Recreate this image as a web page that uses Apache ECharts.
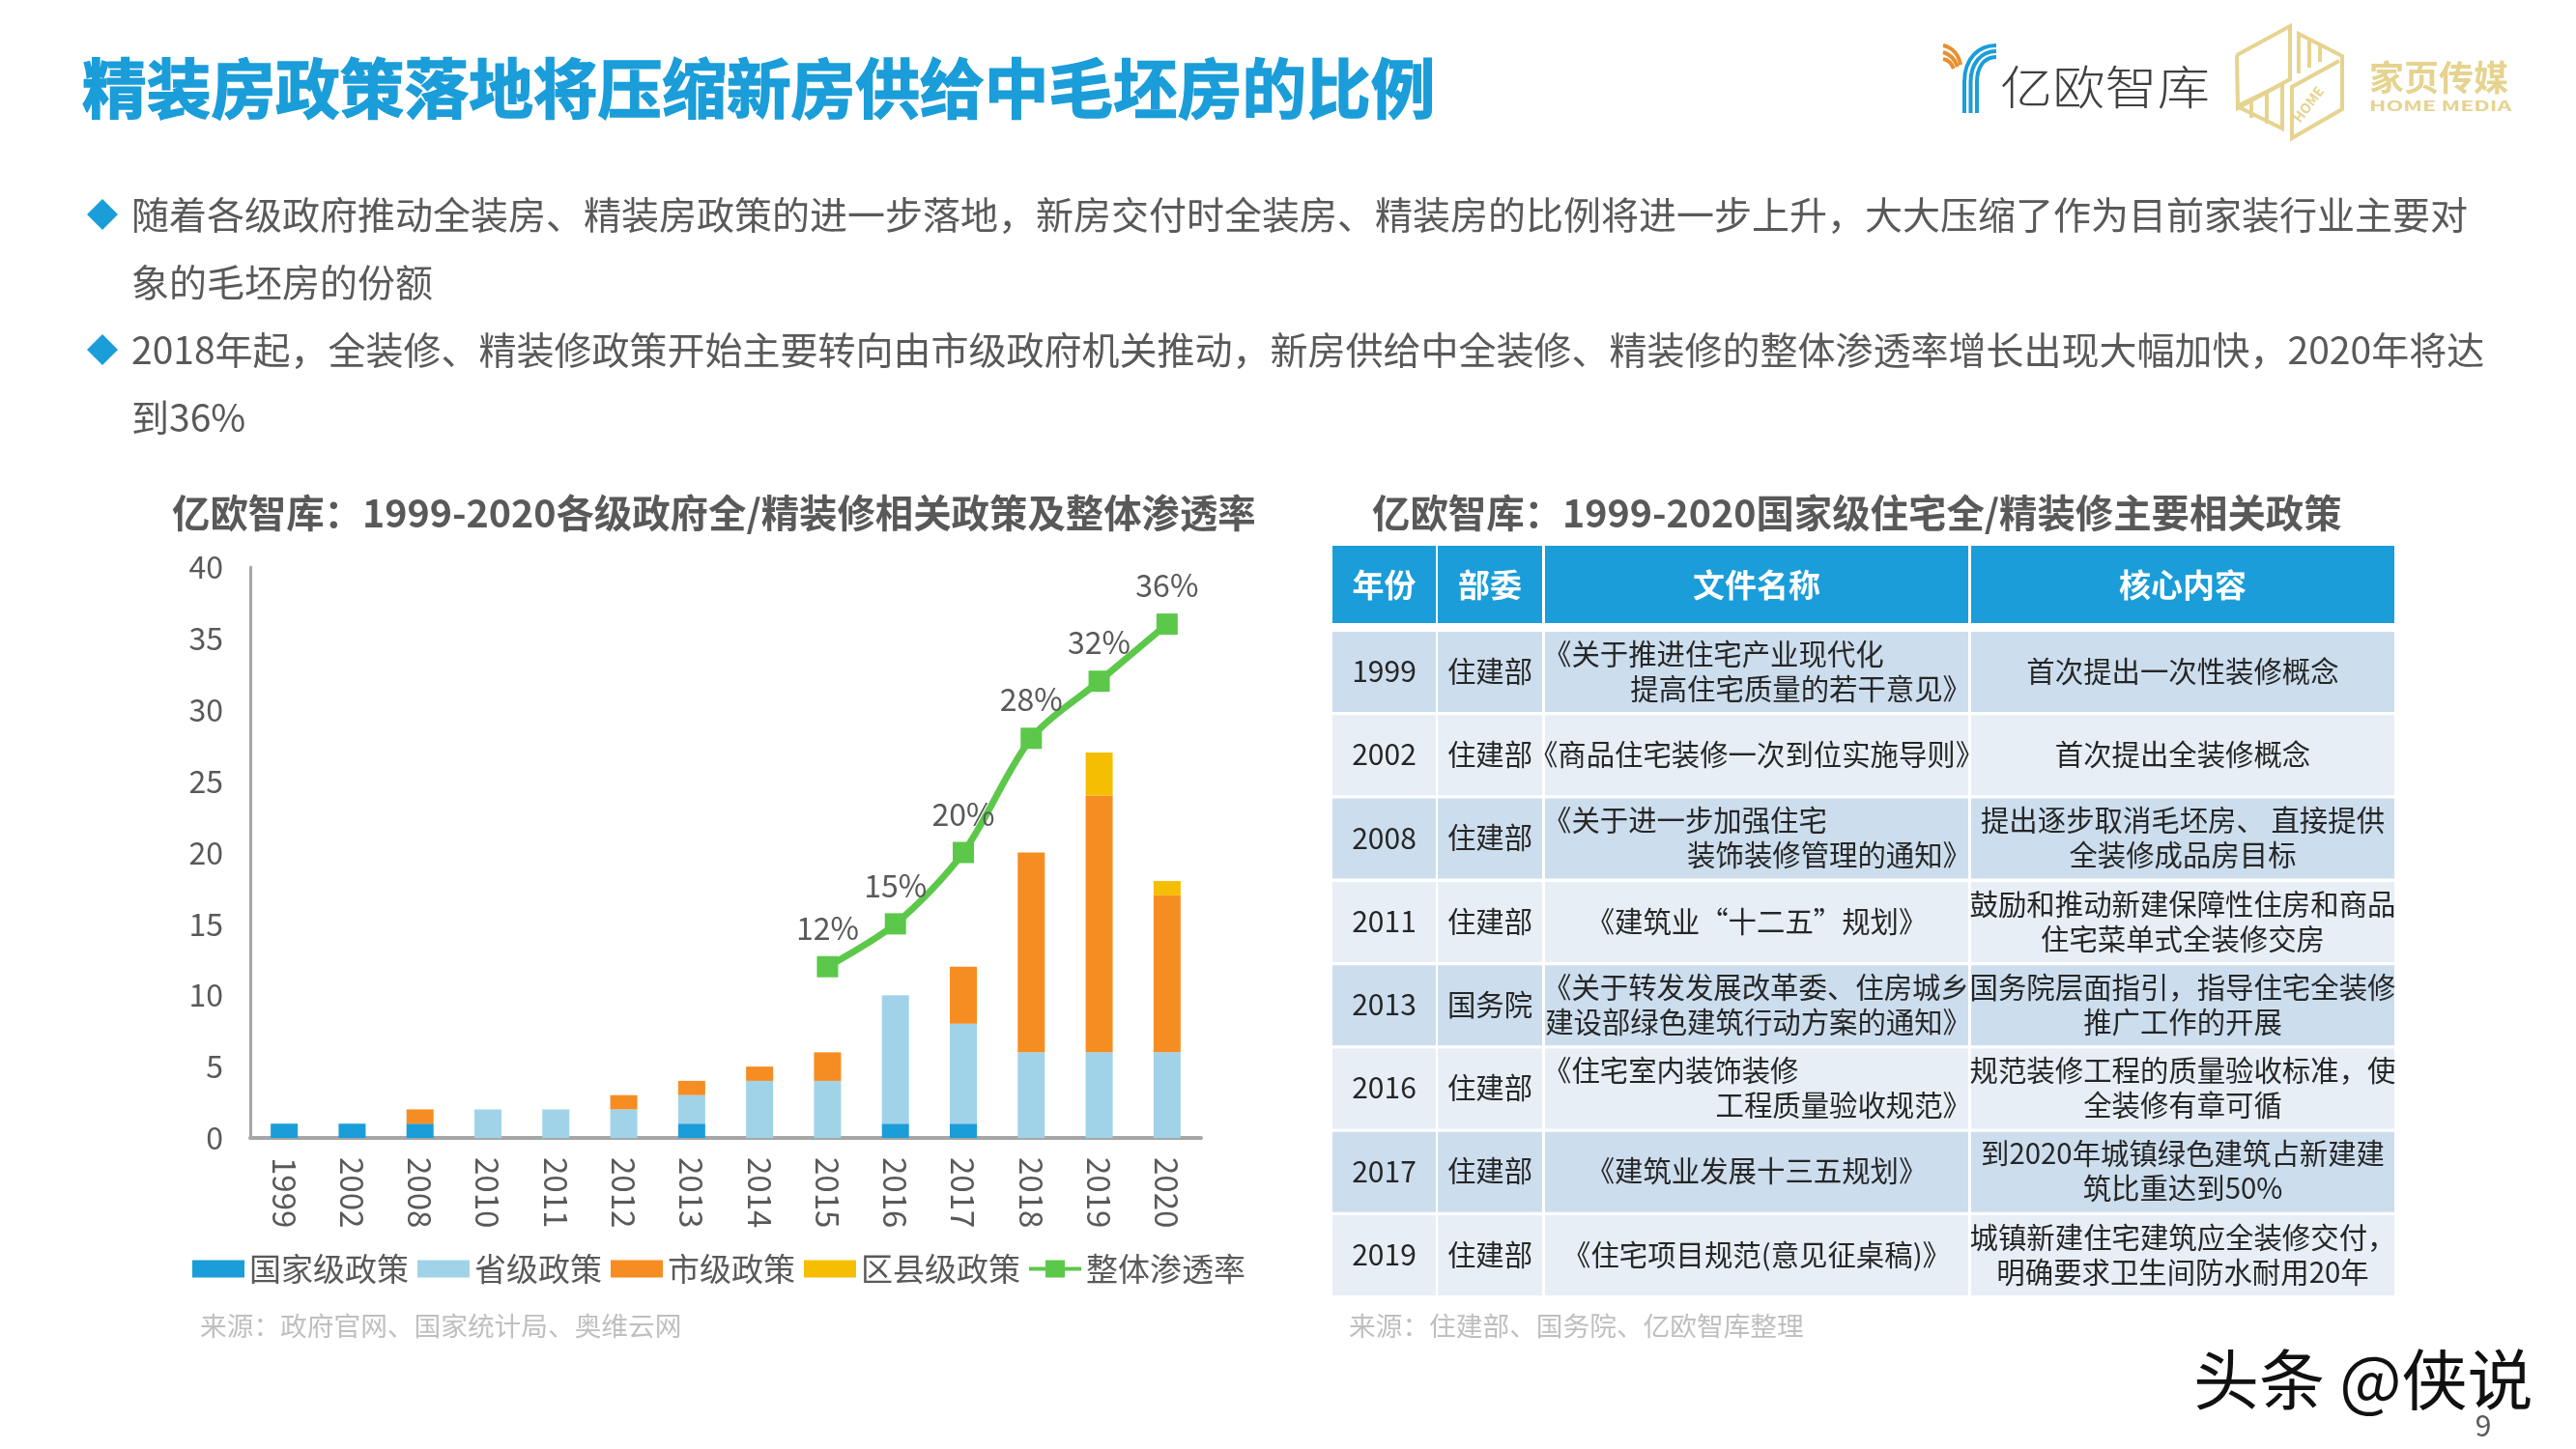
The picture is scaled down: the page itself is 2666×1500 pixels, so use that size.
<!DOCTYPE html>
<html>
<head>
<meta charset="utf-8">
<title>精装房政策落地将压缩新房供给中毛坯房的比例</title>
<script src="https://cdn.jsdelivr.net/npm/echarts@6/dist/echarts.min.js"></script>
<style>
	html, body { margin: 0; padding: 0; background: #fff; }
	#chartMain { width: 2666px; height: 1500px; }
</style>
</head>
<body>
<div id="chartMain"></div>
<script>
const years = ['1999', '2002', '2008', '2010', '2011', '2012', '2013', '2014', '2015', '2016', '2017', '2018', '2019', '2020']
const nationalPolicy = [1, 1, 1, 0, 0, 0, 1, 0, 0, 1, 1, 0, 0, 0]
const provincePolicy = [0, 0, 0, 2, 2, 2, 2, 4, 4, 9, 7, 6, 6, 6]
const cityPolicy = [0, 0, 1, 0, 0, 1, 1, 1, 2, 0, 4, 14, 18, 11]
const countyPolicy = [0, 0, 0, 0, 0, 0, 0, 0, 0, 0, 0, 0, 3, 1]
const penetrationRate = [null, null, null, null, null, null, null, null, 12, 15, 20, 28, 32, 36]

const pageTitle = '精装房政策落地将压缩新房供给中毛坯房的比例'
const bulletLines = [
	'随着各级政府推动全装房、精装房政策的进一步落地\uFF0C新房交付时全装房、精装房的比例将进一步上升\uFF0C大大压缩了作为目前家装行业主要对',
	'象的毛坯房的份额',
	'2018年起\uFF0C全装修、精装修政策开始主要转向由市级政府机关推动\uFF0C新房供给中全装修、精装修的整体渗透率增长出现大幅加快\uFF0C2020年将达',
	'到36%',
]

const tableHeader = ['年份', '部委', '文件名称', '核心内容']
const tableYears = ['1999', '2002', '2008', '2011', '2013', '2016', '2017', '2019']
const tableDepts = ['住建部', '住建部', '住建部', '住建部', '国务院', '住建部', '住建部', '住建部']
const tableDocs = [
	['《关于推进住宅产业现代化', '提高住宅质量的若干意见》'],
	['《商品住宅装修一次到位实施导则》'],
	['《关于进一步加强住宅', '装饰装修管理的通知》'],
	['《建筑业“十二五”规划》'],
	['《关于转发发展改革委、住房城乡', '建设部绿色建筑行动方案的通知》'],
	['《住宅室内装饰装修', '工程质量验收规范》'],
	['《建筑业发展十三五规划》'],
	['《住宅项目规范(意见征桌稿)》'],
]
const tableContent = [
	['首次提出一次性装修概念'],
	['首次提出全装修概念'],
	['提出逐步取消毛坯房、 直接提供', '全装修成品房目标'],
	['鼓励和推动新建保障性住房和商品', '住宅菜单式全装修交房'],
	['国务院层面指引\uFF0C指导住宅全装修', '推广工作的开展'],
	['规范装修工程的质量验收标准\uFF0C使', '全装修有章可循'],
	['到2020年城镇绿色建筑占新建建', '筑比重达到50%'],
	['城镇新建住宅建筑应全装修交付\uFF0C', '明确要求卫生间防水耐用20年'],
]

const FONT = '"Noto Sans CJK SC"'
const BLUE = '#1B9DD9'
const GREY = '#595959'
const GOLD = '#E6D38F'
const ORANGE_LOGO = '#E98F2E'
const CELL_FONT = `29.4px ${FONT}`
const CELL_COLOR = '#262626'

// one piece of text on the page
const textEl = (text, x, y, font, fill, align = 'left', extra = {}) => ({
	type: 'text',
	silent: true,
	...extra,
	style: { text, x, y, font, fill, textAlign: align, textVerticalAlign: 'middle' },
})

const rectEl = (x, y, width, height, fill) => ({
	type: 'rect',
	silent: true,
	shape: { x, y, width, height },
	style: { fill },
})

const polyEl = (points, stroke, lineWidth) => ({
	type: 'polyline',
	silent: true,
	shape: { points },
	style: { stroke, lineWidth, fill: null },
})

const curveEl = (x1, y1, cpx1, cpy1, cpx2, cpy2, x2, y2, stroke) => ({
	type: 'bezierCurve',
	silent: true,
	shape: { x1, y1, cpx1, cpy1, cpx2, cpy2, x2, y2 },
	style: { stroke, lineWidth: 4, fill: null },
})

const headerElements = () => {
	const titleEl = textEl(pageTitle, 85, 92, `bold 66.7px ${FONT}`, BLUE)
	titleEl.style.stroke = BLUE
	titleEl.style.lineWidth = 1.5

	const bulletY = [222, 292, 362, 432]
	const bulletEls = bulletLines.map((line, i) =>
		textEl(line, 136, bulletY[i], `39px ${FONT}`, GREY)
	)
	const diamonds = [bulletY[0], bulletY[2]].map((y) => ({
		type: 'polygon',
		silent: true,
		shape: { points: [[106, y - 16], [122, y], [106, y + 16], [90, y]] },
		style: { fill: BLUE },
	}))

	return [titleEl, ...bulletEls, ...diamonds]
}

const logoElements = () => [
	polyEl([[2033, 117], [2033, 85]], BLUE, 4),
	polyEl([[2039.5, 117], [2039.5, 85]], BLUE, 4),
	polyEl([[2046, 117], [2046, 85]], BLUE, 4),
	curveEl(2033, 85, 2033, 60, 2048, 47, 2066, 47, BLUE),
	curveEl(2039.5, 85, 2039.5, 66, 2050, 53, 2066, 53, BLUE),
	curveEl(2046, 85, 2046, 70, 2053, 59, 2066, 59, BLUE),
	curveEl(2011, 47, 2020, 49, 2027, 56, 2029, 67, ORANGE_LOGO),
	curveEl(2011, 54, 2018, 56, 2023, 61, 2026, 69, ORANGE_LOGO),
	curveEl(2011, 61, 2016, 62, 2020, 66, 2022, 71, ORANGE_LOGO),
	textEl('亿欧智库', 2070, 90, `300 48px ${FONT}`, '#404040', 'left', { scaleX: 1.13, originX: 2070 }),

	polyEl([[2315, 57], [2370, 27], [2370, 82], [2316, 112], [2315, 57]], GOLD, 4),
	polyEl([[2379, 76], [2379, 35], [2424, 58], [2424, 113], [2372, 143], [2372, 90], [2421, 63]], GOLD, 4),
	polyEl([[2315, 110], [2362, 87], [2362, 133], [2315, 110]], GOLD, 4),
	polyEl([[2390, 41], [2390, 70]], GOLD, 4),
	polyEl([[2401, 47], [2401, 64]], GOLD, 4),
	polyEl([[2330, 103], [2330, 122]], GOLD, 4),
	polyEl([[2346, 95], [2346, 128]], GOLD, 4),
	textEl('HOME', 2389, 108, `bold 14px ${FONT}`, GOLD, 'center', { rotation: Math.PI / 3.4, originX: 2389, originY: 108 }),
	textEl('家页传媒', 2452, 80, `bold 36px ${FONT}`, GOLD),
	textEl('HOME MEDIA', 2452, 110, `bold 14px ${FONT}`, GOLD, 'left', { scaleX: 1.65, originX: 2452 }),
]

// the policy table on the right, cells built from the table arrays
const tableElements = () => {
	const colX = [1379, 1488, 1599, 2040]
	const colW = [107, 108, 438, 438]
	const rowTop = 654
	const rowPitch = 86.3
	const rowH = 83
	const bandColors = ['#CCDDED', '#E7EEF6']
	const els = []

	tableHeader.forEach((name, c) => {
		els.push(rectEl(colX[c], 565, colW[c], 80, BLUE))
		els.push(textEl(name, colX[c] + colW[c] / 2, 605, `bold 33px ${FONT}`, '#FFFFFF', 'center'))
	})

	tableYears.forEach((year, r) => {
		const top = rowTop + r * rowPitch
		const mid = top + rowH / 2 - 1
		colX.forEach((x, c) => els.push(rectEl(x, top, colW[c], rowH, bandColors[r % 2])))

		els.push(textEl(year, colX[0] + colW[0] / 2, mid, `30px ${FONT}`, CELL_COLOR, 'center'))
		els.push(textEl(tableDepts[r], colX[1] + colW[1] / 2, mid, CELL_FONT, CELL_COLOR, 'center'))

		const docLines = tableDocs[r]
		if (docLines.length === 1) {
			els.push(textEl(docLines[0], colX[2] + colW[2] / 2, mid, CELL_FONT, CELL_COLOR, 'center'))
		} else {
			els.push(textEl(docLines[0], colX[2] - 2, mid - 18, CELL_FONT, CELL_COLOR))
			els.push(textEl(docLines[1], colX[2] + colW[2] + 3, mid + 18, CELL_FONT, CELL_COLOR, 'right'))
		}

		const contentLines = tableContent[r]
		contentLines.forEach((line, l) => {
			const y = contentLines.length === 1 ? mid : mid + (l === 0 ? -18 : 18)
			els.push(textEl(line, colX[3] + colW[3] / 2, y, CELL_FONT, CELL_COLOR, 'center'))
		})
	})

	return els
}

const captionElements = () => [
	textEl('亿欧智库\uFF1A1999-2020各级政府全/精装修相关政策及整体渗透率', 178, 531, `bold 39.4px ${FONT}`, GREY),
	textEl('亿欧智库\uFF1A1999-2020国家级住宅全/精装修主要相关政策', 1420, 531, `bold 39.4px ${FONT}`, GREY),
	textEl('来源\uFF1A政府官网、国家统计局、奥维云网', 207, 1372, `27.7px ${FONT}`, '#BFBFBF'),
	textEl('来源\uFF1A住建部、国务院、亿欧智库整理', 1396, 1372, `27.7px ${FONT}`, '#BFBFBF'),
	textEl('头条 @侠说', 2270, 1428, `68px ${FONT}`, '#111111'),
	textEl('9', 2570, 1476, `30px ${FONT}`, GREY, 'center'),
]

const chartOne = () => {
	const chartNumberOne = echarts.init(document.getElementById('chartMain'))

	const barSeries = (name, data, color) => ({
		name,
		type: 'bar',
		stack: 'policy',
		barWidth: 28,
		itemStyle: { color },
		data,
	})

	const option = {
		animation: false,
		backgroundColor: '#FFFFFF',
		textStyle: { fontFamily: FONT },
		grid: { left: 259, right: 2666 - 1243, top: 587, bottom: 1500 - 1178 },
		legend: {
			left: 194,
			top: 1292,
			itemWidth: 54,
			itemHeight: 18,
			itemGap: 9,
			textStyle: { fontSize: 33, color: GREY, fontFamily: FONT },
			data: [
				{ name: '国家级政策', icon: 'rect' },
				{ name: '省级政策', icon: 'rect' },
				{ name: '市级政策', icon: 'rect' },
				{ name: '区县级政策', icon: 'rect' },
				// line with a square in the middle, like the series itself
				{ name: '整体渗透率', icon: 'path://M0,7H17V0H37V7H54V11H37V18H17V11H0Z' },
			],
		},
		xAxis: {
			type: 'category',
			data: years,
			axisLine: { lineStyle: { color: '#A6A6A6', width: 4 } },
			axisTick: { show: false },
			axisLabel: { rotate: -90, fontSize: 33, color: GREY, margin: 20, fontFamily: FONT },
		},
		yAxis: {
			type: 'value',
			min: 0,
			max: 40,
			interval: 5,
			splitLine: { show: false },
			axisLine: { show: true, lineStyle: { color: '#A6A6A6', width: 3 } },
			axisTick: { show: false },
			axisLabel: { fontSize: 32, color: GREY, margin: 28, fontFamily: FONT },
		},
		series: [
			barSeries('国家级政策', nationalPolicy, '#1B9DD9'),
			barSeries('省级政策', provincePolicy, '#A0D3E8'),
			barSeries('市级政策', cityPolicy, '#F68D22'),
			barSeries('区县级政策', countyPolicy, '#F6BE00'),
			{
				name: '整体渗透率',
				type: 'line',
				smooth: 0.3,
				symbol: 'rect',
				symbolSize: 22,
				lineStyle: { color: '#5CC84A', width: 7 },
				itemStyle: { color: '#5CC84A' },
				label: {
					show: true,
					position: 'top',
					distance: 13,
					formatter: '{c}%',
					fontSize: 32,
					color: GREY,
					fontFamily: FONT,
				},
				data: penetrationRate,
			},
		],
		graphic: [
			...headerElements(),
			...logoElements(),
			...tableElements(),
			...captionElements(),
		],
	}

	chartNumberOne.setOption(option)
}

chartOne()
</script>
</body>
</html>
